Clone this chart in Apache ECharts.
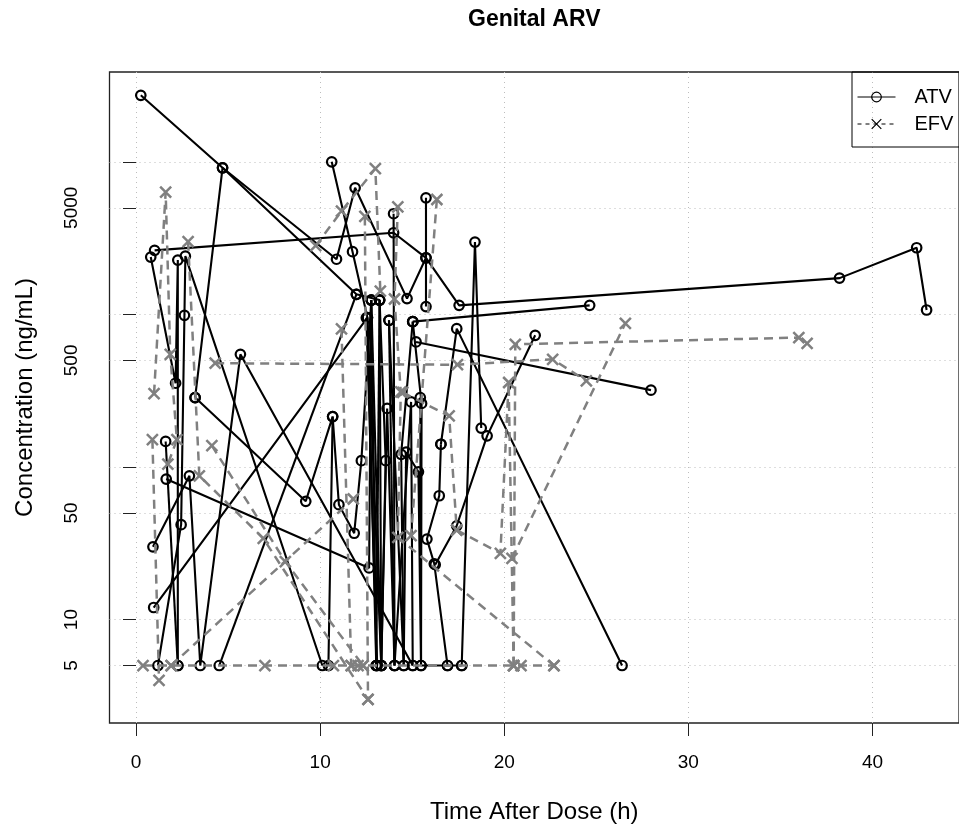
<!DOCTYPE html>
<html>
<head>
<meta charset="utf-8">
<script src="https://cdn.jsdelivr.net/npm/echarts@6/dist/echarts.min.js"></script>
<style>html,body{margin:0;padding:0;background:#fff;}#chart{width:959px;height:829px;}</style>
</head>
<body>
<div id="chart"></div>
<script>
// Tick positions
const xTicks = [0, 10, 20, 30, 40];
const yTicks = [5, 10, 50, 100, 500, 1000, 5000, 10000];
const yLabels = [5, 10, 50, 500, 5000];

// ATV paths: [time (h), concentration (ng/mL)]
const atvPaths = [
  [[0.26,27300],[4.70,9140],[10.89,2300],[11.90,6760],[14.72,1270],[15.75,2350],[15.75,5810],[15.75,1125]],
  [[3.21,285],[4.70,9140],[11.97,1355],[13.23,1242],[13.32,5]],
  [[1.01,2630],[13.99,3430],[15.75,2350],[17.55,1147],[38.21,1730],[42.40,2735],[42.94,1069]],
  [[0.80,2376],[2.15,354],[2.27,2270],[2.27,5]],
  [[1.19,5],[2.45,41.9],[2.63,986],[2.68,2410],[10.12,5]],
  [[1.61,147],[2.27,5]],
  [[1.64,83.4],[12.66,21.8],[12.78,1242],[13.05,5]],
  [[0.92,30.0],[2.90,87.6],[3.49,5],[5.67,548],[15.03,5]],
  [[0.96,12.0],[12.57,953],[13.05,5]],
  [[4.52,5],[11.97,1355]],
  [[3.21,285],[9.22,59.6],[10.68,214],[10.45,5]],
  [[10.68,214],[11.02,56.6],[11.85,36.8],[12.24,110],[12.78,1242]],
  [[13.99,4570],[14.04,5]],
  [[10.63,10000],[11.76,2576],[12.57,953],[13.32,5],[13.64,242],[14.04,5],[14.94,267],[15.03,5]],
  [[13.74,915],[14.54,5],[14.67,125],[15.34,93],[15.48,5],[15.44,285]],
  [[15.03,897],[15.51,261],[15.48,5],[16.92,5],[17.69,5]],
  [[15.21,660],[27.97,319]],
  [[15.03,897],[24.64,1147]],
  [[16.56,141],[17.42,807],[26.40,5]],
  [[17.69,5],[18.41,2980],[18.75,180]],
  [[16.25,22.9],[17.42,41.2],[19.07,160],[21.68,730]],
  [[16.56,141],[16.47,64.8],[15.80,33.7],[16.20,23.2],[16.92,5]],
  [[13.23,1242],[13.05,5]],
  [[12.78,1242],[13.32,5]],
  [[13.23,1242],[13.56,110],[13.32,5]],
  [[15.03,897],[14.40,121],[14.54,5]],
  [[13.74,915],[14.04,5]],
  [[12.51,950],[13.10,5]]
];

// EFV paths: [time (h), concentration (ng/mL)]
const efvPaths = [
  [[4.30,479],[17.46,468],[22.63,508],[24.46,367]],
  [[20.42,25.2],[26.58,875]],
  [[20.51,5],[20.60,637],[36.00,705],[36.45,647]],
  [[17.42,38.6],[19.79,27.2],[20.24,358],[20.51,5]],
  [[0.38,5],[1.91,5],[7.00,5],[10.72,5],[11.69,5],[12.06,5],[12.33,5],[20.51,5],[20.91,5],[22.70,5]],
  [[0.98,303],[1.61,6325],[1.86,548],[2.22,151],[1.73,104.5]],
  [[0.89,151],[1.25,4.0]],
  [[2.83,2995],[3.44,87.6],[6.91,34.1],[12.60,3.0]],
  [[4.12,138],[8.11,24.0],[12.33,5]],
  [[1.91,5],[11.80,61.7]],
  [[9.76,2820],[11.16,4750],[13.00,9040],[13.27,1423]],
  [[11.16,805],[11.69,5]],
  [[12.43,4385],[12.60,3.0]],
  [[14.22,5060],[14.04,1262],[14.38,311],[14.22,34.6],[22.70,5]],
  [[16.34,5665],[14.94,35.5]],
  [[14.49,308],[17.01,216],[17.42,38.6]]
];

const FONT = '"Liberation Sans", Arial, Helvetica, sans-serif';
const xSym = 'path://M0,0L10,10M10,0L0,10';

const series = [];
atvPaths.forEach(p => series.push({
  name: 'ATV', type: 'line', data: p, symbol: 'circle', symbolSize: 9.5,
  showAllSymbol: true, silent: true, animation: false, z: 2,
  lineStyle: {color: '#000', width: 2.1},
  itemStyle: {color: 'rgba(0,0,0,0)', borderColor: '#000', borderWidth: 2.2}
}));
efvPaths.forEach(p => series.push({
  name: 'EFV', type: 'line', data: p, symbol: xSym, symbolSize: 11,
  showAllSymbol: true, silent: true, animation: false, z: 3,
  lineStyle: {color: '#808080', width: 2.5, type: [9, 6]},
  itemStyle: {color: 'rgba(0,0,0,0)', borderColor: '#808080', borderWidth: 2.5}
}));

const chart = echarts.init(document.getElementById('chart'), null, {renderer: 'canvas'});
chart.setOption({
  animation: false,
  backgroundColor: '#fff',
  title: {
    text: 'Genital ARV', left: 468, top: 8, padding: 0,
    textStyle: {fontSize: 23, fontWeight: 'bold', color: '#000', fontFamily: FONT}
  },
  legend: {
    orient: 'vertical', left: 852, top: 72,
    padding: [15, 40, 13, 5], itemWidth: 38, itemHeight: 12, itemGap: 7,
    borderColor: '#000', borderWidth: 1, borderRadius: 0,
    selectedMode: false,
    textStyle: {fontSize: 20, lineHeight: 20, color: '#000', fontFamily: FONT, padding: [0, 0, 0, 14]},
    data: [
      {name: 'ATV', lineStyle: {color: '#000', width: 1, type: 'solid'},
       itemStyle: {color: 'rgba(0,0,0,0)', borderColor: '#000', borderWidth: 1.2}},
      {name: 'EFV', lineStyle: {color: '#000', width: 1, type: [4, 4]},
       itemStyle: {color: 'rgba(0,0,0,0)', borderColor: '#000', borderWidth: 1.2}}
    ]
  },
  grid: {
    left: 109.5, right: -6, top: 72, bottom: 105,
    show: true, borderColor: '#222', borderWidth: 1.3, backgroundColor: 'rgba(0,0,0,0)'
  },
  xAxis: {
    type: 'value', min: -1.44, max: 44.7,
    axisLine: {show: false},
    axisTick: {show: true, length: 13, customValues: xTicks, lineStyle: {color: '#222', width: 1}},
    axisLabel: {customValues: xTicks, margin: 30, fontSize: 19, color: '#000', fontFamily: FONT,
      formatter: v => String(v)},
    splitLine: {show: true, lineStyle: {color: '#bdbdbd', type: [1, 4], width: 1}},
    name: 'Time After Dose (h)', nameLocation: 'middle', nameGap: 77,
    nameTextStyle: {fontSize: 24, lineHeight: 24, color: '#000', fontFamily: FONT}
  },
  yAxis: {
    type: 'log', logBase: 10, min: 2.1, max: 38800,
    axisLine: {show: false},
    axisTick: {show: true, length: 13, customValues: yTicks, lineStyle: {color: '#222', width: 1}},
    axisLabel: {customValues: yLabels, rotate: 90, margin: 28, fontSize: 19, color: '#000', fontFamily: FONT,
      formatter: v => String(v)},
    splitLine: {show: true, lineStyle: {color: '#bdbdbd', type: [1, 4], width: 1}},
    name: 'Concentration (ng/mL)', nameLocation: 'middle', nameGap: 72.5, nameRotate: 90,
    nameTextStyle: {fontSize: 24, lineHeight: 24, color: '#000', fontFamily: FONT}
  },
  series: series
});
</script>
</body>
</html>
